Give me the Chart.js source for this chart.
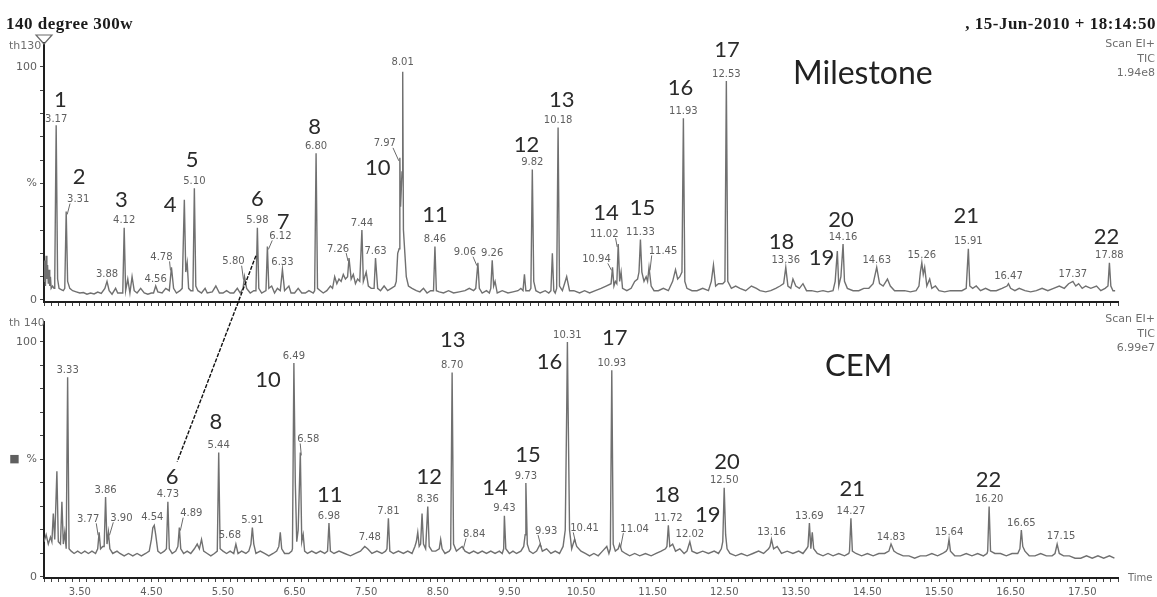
<!DOCTYPE html>
<html>
<head>
<meta charset="utf-8">
<title>140 degree 300w – TIC chromatograms</title>
<script src="https://cdn.jsdelivr.net/npm/chart.js@4.4.1/dist/chart.umd.min.js"></script>
<style>
  html, body { margin: 0; padding: 0; background: #fff; }
  #wrap { position: relative; width: 1157px; height: 597px; overflow: hidden; background: #fff; }
  #wrap canvas { position: absolute; left: 0; top: 0; }
  .t { position: absolute; white-space: nowrap; line-height: 1; }
  .head { font-family: "Liberation Serif", "Times New Roman", serif; font-weight: bold; font-size: 17px; letter-spacing: 0.5px; color: #1b1b1b; }
  .small { font-family: "DejaVu Sans", sans-serif; font-size: 11px; color: #6e6e6e; }
  .stack { text-align: right; line-height: 14.5px; }
  .name { font-family: Lato, "Open Sans", sans-serif; color: #222; }
</style>
</head>
<body>
<div id="wrap">
  <canvas id="milestoneChart" width="1157" height="597"></canvas>
  <canvas id="cemChart" width="1157" height="597"></canvas>

  <div class="t head" style="left:6px; top:15px;">140 degree 300w</div>
  <div class="t head" style="right:1px; top:15px;">, 15-Jun-2010 + 18:14:50</div>

  <div class="t small stack" style="right:2px; top:37px;">Scan EI+<br>TIC<br>1.94e8</div>
  <div class="t small stack" style="right:2px; top:312px;">Scan EI+<br>TIC<br>6.99e7</div>

  <div class="t small" style="left:9px; top:39.5px;">th130</div>
  <div class="t small" style="left:9px; top:316.5px;">th 140</div>
  <div class="t small" style="left:1128px; top:573px; font-size:10px;">Time</div>

  <div class="t name" style="left:793px; top:56px; font-size:32px;">Milestone</div>
  <div class="t name" style="left:825px; top:349px; font-size:31px;">CEM</div>
</div>

<script>
// ---------------------------------------------------------------------------
// Axis ticks
// ---------------------------------------------------------------------------
const timeTickLabels = ['3.50', '4.50', '5.50', '6.50', '7.50', '8.50', '9.50', '10.50',
                        '11.50', '12.50', '13.50', '14.50', '15.50', '16.50', '17.50'];
const abundanceTickValues = [0, 50, 100];
const milestoneAbundanceLabels = ['0', '%', '100'];
const cemAbundanceLabels = ['0', '\u25A0  %', '100'];

// ---------------------------------------------------------------------------
// Milestone extract – total ion current (% of 1.94e8)
// ---------------------------------------------------------------------------
const milestoneTime = [
  3.00, 3.01, 3.02, 3.03, 3.04, 3.05, 3.06, 3.07, 3.08, 3.09, 3.10, 3.12, 3.14,
  3.15, 3.17, 3.19, 3.21, 3.24, 3.27, 3.29, 3.31, 3.33, 3.36, 3.40,
  3.45, 3.50, 3.55, 3.60, 3.65, 3.70, 3.75, 3.80, 3.85, 3.88, 3.91, 3.95, 4.00, 4.03,
  4.10, 4.12, 4.14, 4.17, 4.20, 4.23, 4.26, 4.30, 4.35, 4.40, 4.45, 4.50,
  4.53, 4.56, 4.59, 4.65, 4.70, 4.75, 4.78, 4.81, 4.85, 4.90, 4.93, 4.96, 4.98, 5.00, 5.02, 5.05,
  5.08, 5.10, 5.12, 5.15, 5.20, 5.25, 5.28, 5.35, 5.40, 5.45, 5.50, 5.55, 5.60, 5.65, 5.70, 5.74,
  5.78, 5.80, 5.83, 5.88, 5.93, 5.96, 5.98, 6.00, 6.04, 6.10, 6.12, 6.14, 6.18, 6.22, 6.26, 6.30,
  6.33, 6.36, 6.42, 6.45, 6.50, 6.55, 6.60, 6.65, 6.70, 6.76,
  6.78, 6.80, 6.82, 6.86, 6.90, 6.95, 7.00, 7.03, 7.06, 7.09, 7.12, 7.15, 7.18, 7.21,
  7.24, 7.26, 7.29, 7.32, 7.35, 7.38, 7.41, 7.44, 7.46, 7.50, 7.53, 7.57, 7.61, 7.63, 7.66, 7.70, 7.75, 7.80, 7.85, 7.90,
  7.92, 7.94, 7.96, 7.97, 7.98, 8.00, 8.01, 8.02, 8.04, 8.06, 8.09, 8.14, 8.20, 8.25, 8.30, 8.35, 8.40,
  8.44, 8.46, 8.48, 8.52, 8.58, 8.65, 8.72, 8.80, 8.88, 8.94, 9.00,
  9.03, 9.06, 9.08, 9.12, 9.18, 9.22, 9.24, 9.26, 9.28, 9.30, 9.33, 9.40, 9.48, 9.55, 9.62, 9.66,
  9.69, 9.71, 9.73, 9.78, 9.80, 9.82, 9.84, 9.87, 9.93, 10.00, 10.05, 10.08, 10.10, 10.12, 10.14,
  10.16, 10.18, 10.20, 10.24, 10.30, 10.34, 10.40, 10.48, 10.55, 10.62, 10.70, 10.78, 10.85,
  10.92, 10.94, 10.96, 10.98, 11.00, 11.02, 11.04, 11.06, 11.08, 11.14, 11.20, 11.25,
  11.29, 11.31, 11.33, 11.35, 11.38, 11.41, 11.43, 11.45, 11.48, 11.52, 11.58, 11.65, 11.72, 11.78, 11.82, 11.85, 11.88,
  11.91, 11.93, 11.95, 11.98, 12.05, 12.12, 12.20, 12.28, 12.32, 12.35, 12.38, 12.42, 12.48,
  12.51, 12.53, 12.55, 12.60, 12.66, 12.72, 12.80, 12.88, 12.95, 13.00, 13.08, 13.15, 13.22, 13.28,
  13.33, 13.36, 13.39, 13.43, 13.46, 13.50, 13.55, 13.60, 13.65, 13.72, 13.80, 13.88, 13.95, 14.02,
  14.05, 14.08, 14.10, 14.13, 14.16, 14.18, 14.22, 14.30, 14.38, 14.45, 14.52, 14.58,
  14.63, 14.67, 14.72, 14.78, 14.82, 14.88, 14.95, 15.02, 15.10, 15.18, 15.22,
  15.24, 15.26, 15.28, 15.30, 15.33, 15.37, 15.40, 15.45, 15.50, 15.58, 15.66, 15.74, 15.82, 15.88,
  15.91, 15.93, 15.97, 16.02, 16.08, 16.15, 16.22, 16.30, 16.38, 16.45,
  16.47, 16.50, 16.56, 16.62, 16.70, 16.78, 16.86, 16.94, 17.02, 17.10, 17.18, 17.25, 17.31,
  17.37, 17.41, 17.45, 17.50, 17.55, 17.62, 17.70, 17.76, 17.82, 17.86, 17.88, 17.90, 17.93, 17.96
];
const milestoneAbundance = [
  8, 17, 6, 19, 9, 15, 7, 13, 6, 10, 5, 6, 5,
  8, 75, 9, 5, 4.5, 4, 5, 38, 8, 5, 4,
  3.5, 3, 3.2, 2.5, 3, 2.6, 3.4, 2.8, 5, 8, 4, 2.5, 5, 3,
  3, 31, 4, 9, 3, 10, 4, 3, 5, 3, 2.5, 3,
  3, 6, 3.5, 3, 5, 4, 14, 5, 3, 4, 5, 43, 12, 16, 5, 4,
  4, 48, 6, 4, 3, 5, 3, 3.5, 6, 3, 3, 4, 3, 3, 5, 3,
  5, 10, 5, 3, 4, 4, 31, 5, 3, 4, 23, 5, 6, 3, 5, 4,
  13, 4, 6, 3, 3, 5, 3, 3, 4, 3,
  4, 63, 5, 4, 3, 4, 6, 5, 10, 7, 9, 8, 11, 9,
  10, 18, 9, 11, 7, 9, 8, 30, 8, 12, 6, 5, 5, 18, 5, 4, 6, 4, 5, 6,
  8, 20, 22, 61, 40, 55, 98, 30, 20, 10, 6, 5, 4, 3.5, 5, 3, 4,
  4, 23, 4, 3.5, 3, 4, 3, 3.5, 4, 5, 4,
  5, 16, 5, 3, 4, 3, 5, 17, 6, 8, 3, 4, 3, 3.5, 4, 5,
  4, 11, 4, 4, 5, 56, 8, 4, 3, 4, 3, 4, 20, 4, 3,
  5, 74, 6, 4, 10, 4, 4, 3, 4, 3, 4, 5, 6,
  7, 14, 6, 8, 7, 24, 8, 12, 5, 4, 5, 8,
  9, 12, 26, 12, 8, 10, 8, 14, 6, 4, 4, 5, 4, 8, 13, 9, 10,
  12, 78, 8, 5, 4, 4, 5, 4, 8, 15, 6, 7, 7,
  8, 94, 8, 5, 6, 5, 4, 6, 5, 4, 3.5, 4, 5, 6,
  7, 14, 6, 5, 9, 6, 5, 7, 4, 4, 3.5, 4, 3.5, 4,
  8, 21, 6, 10, 24, 8, 5, 4, 4, 5, 5, 7,
  14, 7, 6, 9, 6, 4, 4, 4, 3.5, 4, 6,
  12, 16, 11, 14, 6, 9, 5, 6, 4, 3.5, 4, 4, 4, 5,
  22, 6, 5, 6, 4, 5, 4, 4, 5, 6,
  7, 5, 4, 5, 4, 3.5, 4, 5, 4, 5, 6, 5, 7,
  8, 6, 7, 5, 6, 5, 6, 4, 5, 6, 16, 6, 4, 4
];

// Retention times printed over the Milestone peaks
const milestoneLabeledTimes = [3.17, 3.31, 3.88, 4.12, 4.56, 4.78, 5.10, 5.80, 5.98, 6.12, 6.33, 6.80,
  7.26, 7.44, 7.63, 7.97, 8.01, 8.46, 9.06, 9.26, 9.82, 10.18, 10.94, 11.02, 11.33, 11.45,
  11.93, 12.53, 13.36, 14.16, 14.63, 15.26, 15.91, 16.47, 17.37, 17.88];

// ---------------------------------------------------------------------------
// CEM extract – total ion current (% of 6.99e7)
// ---------------------------------------------------------------------------
const cemTime = [
  3.00, 3.03, 3.06, 3.09, 3.11, 3.13, 3.15, 3.18, 3.20, 3.23, 3.25, 3.27, 3.29, 3.31,
  3.33, 3.35, 3.38, 3.42, 3.47, 3.52, 3.57, 3.62, 3.67, 3.72,
  3.75, 3.77, 3.79, 3.82, 3.84, 3.86, 3.88, 3.90, 3.92, 3.96, 4.02, 4.06, 4.12, 4.18, 4.24, 4.30, 4.36, 4.42, 4.47,
  4.50, 4.52, 4.54, 4.56, 4.59, 4.63, 4.68, 4.71, 4.73, 4.75, 4.79, 4.84, 4.87, 4.89, 4.91, 4.95,
  5.00, 5.05, 5.10, 5.14, 5.17, 5.20, 5.23, 5.28, 5.33, 5.38,
  5.42, 5.44, 5.46, 5.50, 5.55, 5.60, 5.65, 5.68, 5.71, 5.76, 5.82, 5.86, 5.89, 5.91, 5.93, 5.96,
  6.02, 6.08, 6.14, 6.20, 6.25,
  6.28, 6.30, 6.32, 6.36, 6.42, 6.46, 6.47, 6.49, 6.51, 6.53, 6.55, 6.58, 6.60, 6.62, 6.64, 6.68, 6.74, 6.80, 6.86, 6.92,
  6.96, 6.98, 7.00, 7.05, 7.12, 7.20, 7.28, 7.35, 7.42, 7.45, 7.48, 7.52, 7.58, 7.65, 7.72, 7.77,
  7.79, 7.81, 7.83, 7.88, 7.95, 8.02, 8.08, 8.14, 8.18, 8.20, 8.22, 8.24, 8.26, 8.28, 8.30, 8.33, 8.36, 8.38, 8.42, 8.47,
  8.52, 8.54, 8.56, 8.60, 8.66, 8.68, 8.70, 8.72, 8.76, 8.80, 8.84, 8.88, 8.94, 9.00, 9.06, 9.12, 9.18, 9.24, 9.30, 9.36, 9.40,
  9.42, 9.43, 9.45, 9.50, 9.55, 9.60, 9.66, 9.70, 9.72, 9.73, 9.75, 9.78, 9.83, 9.88, 9.93, 9.96, 10.02, 10.08, 10.14, 10.20, 10.25,
  10.28, 10.30, 10.31, 10.32, 10.34, 10.37, 10.41, 10.44, 10.50, 10.56, 10.62, 10.68, 10.74, 10.80, 10.86, 10.89,
  10.91, 10.93, 10.95, 10.98, 11.02, 11.04, 11.07, 11.12, 11.18, 11.25, 11.32, 11.40, 11.48, 11.55, 11.62, 11.68,
  11.70, 11.72, 11.74, 11.78, 11.82, 11.88, 11.94, 11.98, 12.02, 12.05, 12.12, 12.20, 12.28, 12.36, 12.42, 12.46,
  12.48, 12.50, 12.52, 12.54, 12.58, 12.66, 12.74, 12.82, 12.90, 12.98, 13.05, 13.12,
  13.14, 13.16, 13.19, 13.24, 13.30, 13.38, 13.46, 13.54, 13.60, 13.65,
  13.67, 13.69, 13.71, 13.73, 13.75, 13.80, 13.88, 13.95, 14.02, 14.10, 14.18, 14.24,
  14.25, 14.27, 14.29, 14.34, 14.42, 14.50, 14.58, 14.66, 14.74, 14.80,
  14.83, 14.87, 14.92, 15.00, 15.08, 15.16, 15.24, 15.32, 15.40, 15.48, 15.55, 15.60,
  15.62, 15.64, 15.66, 15.72, 15.80, 15.88, 15.96, 16.04, 16.12, 16.17,
  16.18, 16.20, 16.22, 16.28, 16.36, 16.44, 16.52, 16.60,
  16.63, 16.65, 16.67, 16.70, 16.76, 16.84, 16.92, 17.00, 17.08, 17.12,
  17.15, 17.18, 17.24, 17.32, 17.40, 17.48, 17.56, 17.64, 17.72, 17.80, 17.88, 17.95
];
const cemAbundance = [
  15, 18, 14, 17, 15, 27, 16, 45, 15, 14, 32, 14, 19, 12,
  85, 12, 11, 10, 11, 10, 11, 10, 11, 10,
  12, 19, 12, 13, 13, 34, 14, 19, 12, 10, 11, 10, 9, 10, 9, 10, 9, 10, 11,
  16, 21, 22, 18, 11, 10, 11, 12, 32, 12, 10, 11, 13, 21, 12, 10,
  11, 10, 12, 14, 12, 16, 11, 10, 9, 10,
  11, 53, 12, 11, 10, 11, 10, 14, 10, 11, 10, 11, 14, 21, 14, 10,
  11, 10, 9, 10, 11,
  13, 19, 12, 10, 10, 11, 12, 91, 40, 15, 20, 53, 15, 18, 11, 10, 11, 10, 11, 10,
  11, 23, 11, 10, 11, 10, 9, 10, 11, 12, 13, 12, 10, 11, 10, 11,
  12, 25, 11, 10, 11, 10, 11, 10, 13, 15, 19, 13, 14, 27, 14, 12, 30, 13, 11, 11,
  12, 16, 12, 10, 11, 12, 87, 14, 11, 12, 13, 11, 10, 11, 10, 11, 10, 11, 10, 11, 10,
  12, 26, 12, 10, 11, 10, 11, 13, 18, 40, 14, 11, 10, 11, 14, 11, 12, 10, 11, 10, 13,
  20, 70, 100, 72, 20, 12, 16, 13, 11, 10, 9, 10, 9, 11, 13, 10,
  12, 88, 14, 11, 12, 14, 11, 10, 9, 10, 9, 10, 9, 10, 11, 12,
  13, 22, 13, 14, 11, 12, 10, 11, 15, 11, 10, 11, 10, 11, 10, 12,
  15, 38, 18, 12, 10, 9, 10, 9, 10, 11, 10, 12,
  13, 16, 12, 13, 10, 11, 10, 11, 10, 12,
  13, 23, 12, 19, 12, 10, 9, 10, 9, 10, 9, 10,
  11, 25, 11, 10, 9, 10, 9, 10, 10, 11,
  14, 11, 10, 9, 9, 8, 9, 9, 10, 9, 10, 11,
  12, 16, 11, 9, 9, 10, 9, 10, 9, 10,
  11, 30, 11, 10, 10, 9, 10, 10,
  12, 20, 13, 11, 9, 9, 10, 9, 9, 10,
  14, 10, 9, 9, 8, 8, 9, 8, 9, 8, 9, 8
];

// Retention times printed over the CEM peaks
const cemLabeledTimes = [3.33, 3.77, 3.86, 3.90, 4.54, 4.73, 4.89, 5.44, 5.68, 5.91, 6.49, 6.58,
  6.98, 7.48, 7.81, 8.36, 8.70, 8.84, 9.43, 9.73, 9.93, 10.31, 10.41, 10.93, 11.04, 11.72,
  12.02, 12.50, 13.16, 13.69, 14.27, 14.83, 15.64, 16.20, 16.65, 17.15];

// ---------------------------------------------------------------------------
// Annotation layout (label nudges in px; compound numbers placed in data units)
// ---------------------------------------------------------------------------
const milestoneNudges = {
  '3.17': [0, -6], '3.31': [12, -12, true], '4.78': [-10, -10, true], '5.80': [-11, -15, true],
  '6.12': [13, -10, true], '7.26': [-11, -9, true], '7.97': [-15, -14, true], '8.01': [0, -9],
  '9.06': [-13, -10, true], '10.94': [-16, -8, true], '11.02': [-14, -10, true], '11.45': [14, -16, true]
};
const cemNudges = {
  '3.77': [-11, -13, true], '3.90': [13, -14, true], '4.54': [-2, -8], '4.89': [12, -14, true],
  '5.68': [-6, -9], '6.58': [8, -13, true], '7.48': [5, -9], '8.84': [12, -12, true],
  '9.93': [6, -13, true], '10.41': [10, -11, true], '11.04': [15, -15, true], '17.15': [4, -8]
};
const milestoneCompoundTags = [
  ['1', 3.23, 85.8], ['2', 3.49, 52.8], ['3', 4.08, 42.9], ['4', 4.76, 40.8], ['5', 5.07, 60.1],
  ['6', 5.98, 43.3], ['7', 6.34, 33.5], ['8', 6.78, 74.2], ['10', 7.66, 56.7], ['11', 8.46, 36.5],
  ['12', 9.74, 66.5], ['13', 10.23, 85.8], ['14', 10.85, 37.3], ['15', 11.36, 39.5], ['16', 11.89, 91.0],
  ['17', 12.54, 107.3], ['18', 13.30, 24.9], ['19', 13.86, 18.0], ['20', 14.13, 34.3], ['21', 15.88, 36.1],
  ['22', 17.84, 27.0]
];
const cemCompoundTags = [
  ['6', 4.79, 42.6], ['8', 5.40, 66.0], ['10', 6.13, 83.8], ['11', 6.99, 34.9], ['12', 8.38, 42.6],
  ['13', 8.71, 100.9], ['14', 9.30, 37.9], ['15', 9.76, 51.9], ['16', 10.06, 91.5], ['17', 10.97, 101.7],
  ['18', 11.70, 34.9], ['19', 12.27, 26.4], ['20', 12.54, 48.9], ['21', 14.29, 37.4], ['22', 16.19, 41.3]
];
// Compound 6 in the upper trace linked to compound 6 in the lower trace: [time, %]
const compoundSixLinkFrom = [5.96, 19];
const compoundSixLinkTo = [4.86, 49];

// ---------------------------------------------------------------------------
// Drawing helpers
// ---------------------------------------------------------------------------
const SMALL_FONT = '10px "DejaVu Sans", sans-serif';
const TAG_FONT = '22px Lato, "Open Sans", sans-serif';

function toPoints(times, values) {
  return times.map((t, i) => ({ x: t, y: values[i] }));
}

function peakTagPlugin(id, labeledTimes, nudges, compoundTags) {
  return {
    id,
    afterDatasetsDraw(chart) {
      const { ctx } = chart;
      const xs = chart.scales.x, ys = chart.scales.y;
      const pts = chart.data.datasets[0].data;
      ctx.save();
      ctx.font = SMALL_FONT;
      ctx.fillStyle = '#5f5f5f';
      ctx.strokeStyle = '#6a6a6a';
      ctx.lineWidth = 1;
      ctx.textAlign = 'center';
      ctx.textBaseline = 'middle';
      labeledTimes.forEach(t => {
        const p = pts.find(q => Math.abs(q.x - t) < 1e-6);
        if (!p) return;
        const px = xs.getPixelForValue(p.x);
        const py = ys.getPixelForValue(p.y);
        const txt = t.toFixed(2);
        const n = nudges[txt] || [0, -7];
        const cx = px + n[0], cy = py + n[1];
        ctx.fillText(txt, cx, cy);
        if (n[2]) {
          const w = ctx.measureText(txt).width;
          const sx = n[0] < 0 ? cx + w / 2 - 3 : cx - w / 2 + 3;
          ctx.beginPath();
          ctx.moveTo(sx, cy + 4);
          ctx.lineTo(px + (n[0] < 0 ? -1 : 1), py + 3);
          ctx.stroke();
        }
      });
      ctx.font = TAG_FONT;
      ctx.fillStyle = '#2b2b2b';
      compoundTags.forEach(([txt, t, v]) => {
        ctx.fillText(txt, xs.getPixelForValue(t), ys.getPixelForValue(v));
      });
      ctx.restore();
    }
  };
}

function timeScale(showLabels, axisHeight) {
  return {
    type: 'linear',
    min: 3.0,
    max: 18.0,
    afterBuildTicks(scale) {
      const ticks = [];
      for (let i = 30; i <= 180; i++) ticks.push({ value: i / 10 });
      scale.ticks = ticks;
    },
    afterFit(scale) { scale.height = axisHeight; },
    ticks: {
      display: showLabels,
      autoSkip: false,
      maxRotation: 0,
      minRotation: 0,
      padding: 4,
      color: '#5f5f5f',
      font: { family: '"DejaVu Sans", sans-serif', size: 10 },
      callback(value) {
        const hit = timeTickLabels.find(s => Math.abs(parseFloat(s) - value) < 1e-6);
        return hit || '';
      }
    },
    grid: { drawOnChartArea: false, drawTicks: true, tickLength: 4, color: '#444', tickWidth: 1 },
    border: { display: true, color: '#1e1e1e', width: 2 }
  };
}

function abundanceScale(min, max, labels) {
  return {
    min, max,
    afterBuildTicks(scale) {
      const ticks = [];
      for (let v = 0; v <= 100; v += 10) ticks.push({ value: v });
      scale.ticks = ticks;
    },
    afterFit(scale) { scale.width = 44; },
    ticks: {
      autoSkip: false,
      padding: 3,
      color: '#5f5f5f',
      font: { family: '"DejaVu Sans", sans-serif', size: 11 },
      callback(value) {
        const i = abundanceTickValues.indexOf(value);
        return i >= 0 ? labels[i] : '';
      }
    },
    grid: { drawOnChartArea: false, drawTicks: true, tickLength: 4, color: '#444', tickWidth: 1 },
    border: { display: true, color: '#1e1e1e', width: 2 }
  };
}

function traceDataset(times, values) {
  return {
    data: toPoints(times, values),
    borderColor: '#707070',
    borderWidth: 1.4,
    pointRadius: 0,
    tension: 0,
    fill: false
  };
}

const baseOptions = {
  responsive: false,
  animation: false,
  devicePixelRatio: 1,
  events: [],
  plugins: { legend: { display: false }, tooltip: { enabled: false } }
};

// Threshold marker at the top of the upper abundance axis
const thresholdMarker = {
  id: 'thresholdMarker',
  afterDraw(chart) {
    const { ctx, chartArea } = chart;
    const x = chartArea.left;
    const y = chartArea.top;
    ctx.save();
    ctx.strokeStyle = '#6a6a6a';
    ctx.lineWidth = 1.2;
    ctx.beginPath();
    ctx.moveTo(x - 8, y - 8);
    ctx.lineTo(x + 8, y - 8);
    ctx.lineTo(x, y + 1);
    ctx.closePath();
    ctx.stroke();
    ctx.restore();
  }
};

// ---------------------------------------------------------------------------
// Upper trace: Milestone
// ---------------------------------------------------------------------------
const milestoneChart = new Chart(document.getElementById('milestoneChart'), {
  type: 'line',
  data: { datasets: [traceDataset(milestoneTime, milestoneAbundance)] },
  options: Object.assign({}, baseOptions, {
    layout: { padding: { top: 43, right: 39, bottom: 287, left: 0 } },
    scales: {
      x: timeScale(false, 8),
      y: abundanceScale(-0.86, 110.3, milestoneAbundanceLabels)
    }
  }),
  plugins: [peakTagPlugin('milestoneTags', milestoneLabeledTimes, milestoneNudges, milestoneCompoundTags), thresholdMarker]
});

// Link between the two compound-6 peaks, spanning both traces
const compoundLink = {
  id: 'compoundLink',
  afterDraw(chart) {
    const { ctx } = chart;
    const x1 = milestoneChart.scales.x.getPixelForValue(compoundSixLinkFrom[0]);
    const y1 = milestoneChart.scales.y.getPixelForValue(compoundSixLinkFrom[1]);
    const x2 = chart.scales.x.getPixelForValue(compoundSixLinkTo[0]);
    const y2 = chart.scales.y.getPixelForValue(compoundSixLinkTo[1]);
    ctx.save();
    ctx.strokeStyle = '#111';
    ctx.lineWidth = 1.4;
    ctx.setLineDash([4, 1.5]);
    ctx.beginPath();
    ctx.moveTo(x1, y1);
    ctx.lineTo(x2, y2);
    ctx.stroke();
    ctx.restore();
  }
};

// ---------------------------------------------------------------------------
// Lower trace: CEM
// ---------------------------------------------------------------------------
new Chart(document.getElementById('cemChart'), {
  type: 'line',
  data: { datasets: [traceDataset(cemTime, cemAbundance)] },
  options: Object.assign({}, baseOptions, {
    layout: { padding: { top: 322, right: 39, bottom: 0, left: 0 } },
    scales: {
      x: timeScale(true, 19),
      y: abundanceScale(-0.43, 108.5, cemAbundanceLabels)
    }
  }),
  plugins: [peakTagPlugin('cemTags', cemLabeledTimes, cemNudges, cemCompoundTags), compoundLink]
});
</script>
</body>
</html>
